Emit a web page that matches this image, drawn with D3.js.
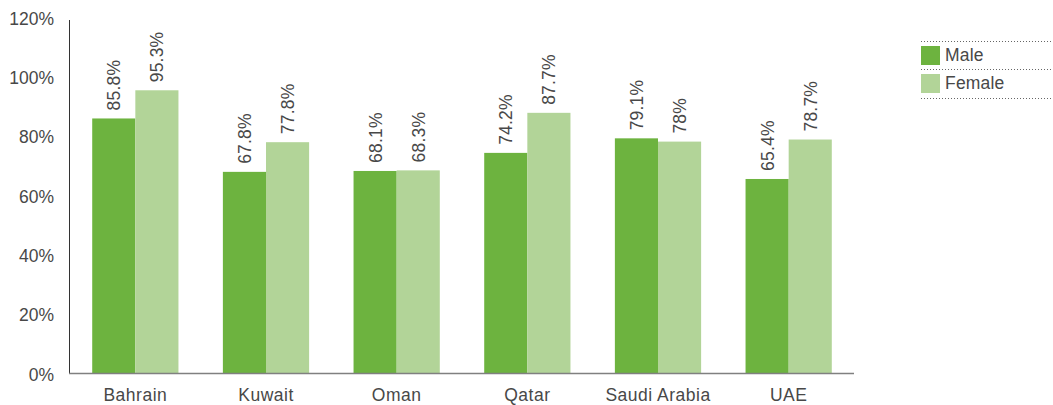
<!DOCTYPE html>
<html><head><meta charset="utf-8">
<script src="https://cdn.jsdelivr.net/npm/d3@7"></script>
<style>body{margin:0;background:#fff;} text{font-family:"Liberation Sans",Arial,sans-serif;}</style>
</head><body><svg id="c" width="1053" height="405"></svg>
<script>
const categories = ["Bahrain","Kuwait","Oman","Qatar","Saudi Arabia","UAE"];
const seriesNames = ["Male","Female"];
const male = [85.8,67.8,68.1,74.2,79.1,65.4];
const female = [95.3,77.8,68.3,87.7,78,78.7];
const labelsMale = ["85.8%","67.8%","68.1%","74.2%","79.1%","65.4%"];
const labelsFemale = ["95.3%","77.8%","68.3%","87.7%","78%","78.7%"];
const yTicks = [0,20,40,60,80,100,120];
const colors = ["#6db33f","#b2d498"];

(function(){
const svg = d3.select("#c");
const mLeft = 69, mRight = 854, mTop = 20, mBottom = 373;
const FS = 17.5, LS = 0.2, TXT = "#484848";
const x0 = d3.scaleBand().domain(categories).range([mLeft+1, mRight]).paddingInner(0.34).paddingOuter(0.17);
const x1 = d3.scaleBand().domain(seriesNames).range([0, x0.bandwidth()]);
const y = d3.scaleLinear().domain([0,120]).range([mBottom, 17]);

const g = svg.append("g");
categories.forEach((c,i)=>{
  [male[i], female[i]].forEach((v,j)=>{
    const bx = x0(c)+x1(seriesNames[j]);
    g.append("rect").attr("x",bx).attr("y",y(v)).attr("width",x1.bandwidth()).attr("height",y(0)-y(v)).attr("fill",colors[j]);
    const lbl = j===0?labelsMale[i]:labelsFemale[i];
    const cx = bx + x1.bandwidth()/2;
    g.append("text").attr("transform",`translate(${cx+6.5},${y(v)-8}) rotate(-90)`)
      .attr("font-size",FS).attr("letter-spacing",LS).attr("fill",TXT).text(lbl);
  });
});

const yAxis = d3.axisLeft(y).tickValues(yTicks).tickFormat(d=>d+"%").tickSize(0).tickPadding(15);
const ya = svg.append("g").attr("transform",`translate(${mLeft},0)`).call(yAxis);
ya.select(".domain").remove();
ya.selectAll("text").attr("font-size",FS).attr("fill",TXT).attr("dy","0.4em").style("font-family","Liberation Sans, Arial, sans-serif");
svg.append("line").attr("x1",mLeft+0.5).attr("x2",mLeft+0.5).attr("y1",mTop).attr("y2",mBottom).attr("stroke","#333").attr("stroke-width",1);

const xAxis = d3.axisBottom(x0).tickSize(0).tickPadding(16);
const xa = svg.append("g").attr("transform",`translate(0,${mBottom})`).call(xAxis);
xa.select(".domain").remove();
xa.selectAll("text").attr("font-size",FS).attr("letter-spacing",0.5).attr("fill",TXT).style("font-family","Liberation Sans, Arial, sans-serif");
svg.append("line").attr("x1",mLeft).attr("x2",mRight).attr("y1",mBottom+0.5).attr("y2",mBottom+0.5).attr("stroke","#808080").attr("stroke-width",1.3);

const lg = svg.append("g");
[41,69,98].forEach(yy=>{
  lg.append("line").attr("x1",921).attr("x2",1053).attr("y1",yy+0.5).attr("y2",yy+0.5)
    .attr("stroke","#666").attr("stroke-width",1).attr("stroke-dasharray","1,2");
});
seriesNames.forEach((s,i)=>{
  lg.append("rect").attr("x",921).attr("y",46+i*28).attr("width",19).attr("height",19).attr("fill",colors[i]);
  lg.append("text").attr("x",945).attr("y",55+i*28).attr("dy","0.35em").attr("font-size",FS).attr("letter-spacing",LS).attr("fill",TXT).text(s);
});
})();
</script></body></html>
